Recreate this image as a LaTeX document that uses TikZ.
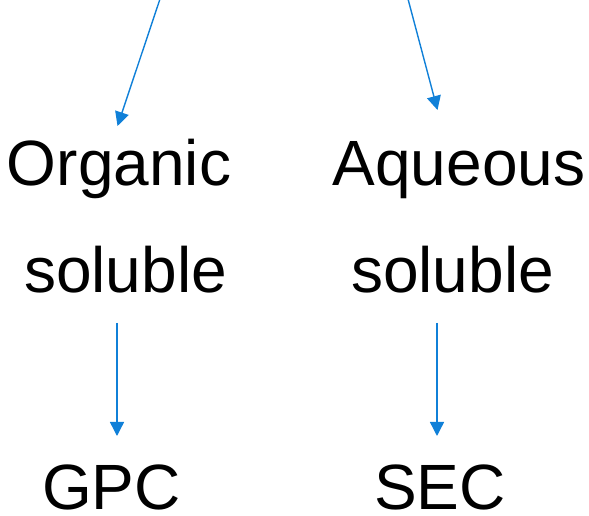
\documentclass[tikz,border=0pt]{standalone}
\usepackage{fontspec}
\setmainfont{Liberation Sans}
\usetikzlibrary{arrows.meta}
\definecolor{arrowblue}{RGB}{16,128,216}
\begin{document}
\begin{tikzpicture}[x=1pt,y=1pt,
  lbl/.style={anchor=base,inner sep=0pt,font=\fontsize{64}{64}\selectfont},
  conn/.style={draw=arrowblue,line width=1.4pt,-{Triangle[length=14pt,width=14pt]}}]
\useasboundingbox (0,0) rectangle (589,516);
\node[lbl] (org) at (119,330) {Organic};
\node[lbl] (sol1) at (125.5,223) {soluble};
\node[lbl] (aq) at (459,330) {Aqueous};
\node[lbl] (sol2) at (452.5,223) {soluble};
\node[lbl,text depth=0pt] (gpc) at (111.5,6) {GPC};
\node[lbl,text depth=0pt] (sec) at (440,6) {SEC};
\coordinate (t1) at (160,517);
\coordinate (h1) at (117.5,390);
\coordinate (t2) at (408,517);
\coordinate (h2) at (437.5,406);
\coordinate (m1) at (117,193);
\coordinate (g1) at (117,80);
\coordinate (m2) at (437,193);
\coordinate (g2) at (437,80);
\draw[conn] (t1) -- (h1);
\draw[conn] (t2) -- (h2);
\draw[conn] (m1) -- (g1);
\draw[conn] (m2) -- (g2);
\end{tikzpicture}
\end{document}
